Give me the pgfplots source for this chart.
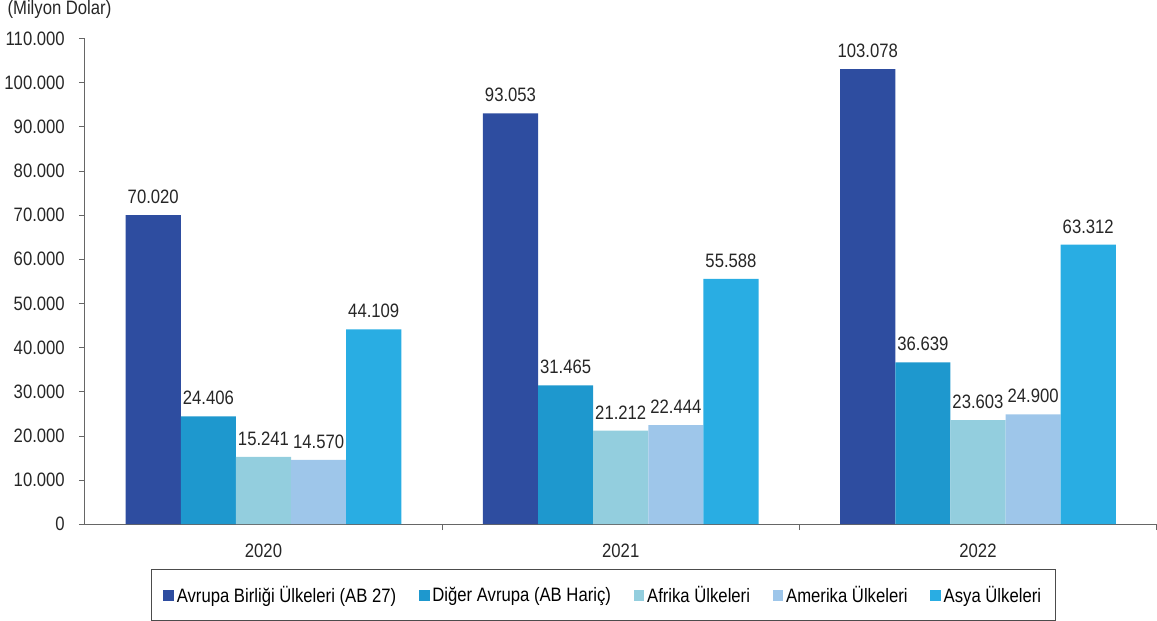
\documentclass[border=0pt]{standalone}
\usepackage{fontspec}
\setmainfont{Liberation Sans}[FakeStretch=0.86]
\usepackage{pgfplots}
\pgfplotsset{compat=1.18}
\definecolor{cA}{HTML}{2E4DA0}
\definecolor{cB}{HTML}{1E98CE}
\definecolor{cC}{HTML}{93CEDE}
\definecolor{cD}{HTML}{9EC6EA}
\definecolor{cE}{HTML}{29ADE3}
\newcommand{\ff}{\fontsize{14.5}{16}\selectfont}
\begin{document}
\begin{tikzpicture}[x=0.75pt,y=0.75pt]
\begin{axis}[
  name=ax,
  scale only axis,
  width=801pt, height=363pt,
  ybar=0pt, bar width=41.2pt,
  xmin=-0.5, xmax=2.5,
  ymin=0, ymax=110000,
  xtick={0,1,2}, xticklabels={2020,2021,2022},
  minor xtick={0.5,1.5,2.5},
  major x tick style={draw=none},
  minor tick length=4.5pt,
  major tick length=4.5pt,
  tick align=outside,
  scaled y ticks=false,
  ytick={0,10000,20000,30000,40000,50000,60000,70000,80000,90000,100000,110000},
  yticklabels={0,10.000,20.000,30.000,40.000,50.000,60.000,70.000,80.000,90.000,100.000,110.000},
  axis x line*=bottom, axis y line*=left,
  axis line style={draw=gray!80!black, line width=0.6pt},
  tick style={draw=gray!80!black, line width=0.6pt},
  font=\ff,
  tick label style={font=\ff, text=black!85},
  yticklabel style={xshift=-7pt},
  xticklabel style={yshift=-7pt},
  point meta=explicit symbolic,
  nodes near coords,
  nodes near coords style={font=\ff, text=black!85, yshift=5pt},
  legend columns=5,
  legend style={at={(0.484,-0.093)}, anchor=north, draw=black!70, line width=0.5pt,
    font=\ff, inner xsep=9pt, inner ysep=10pt,
    /tikz/every even column/.append style={column sep=15pt}},
  legend image code/.code={\fill[#1,draw=none] (0pt,-4.5pt) rectangle (8pt,3.5pt);},
]
\addplot[fill=cA, draw=none] coordinates {(0,70020) [70.020] (1,93053) [93.053] (2,103078) [103.078]};
\addplot[fill=cB, draw=none] coordinates {(0,24406) [24.406] (1,31465) [31.465] (2,36639) [36.639]};
\addplot[fill=cC, draw=none] coordinates {(0,15241) [15.241] (1,21212) [21.212] (2,23603) [23.603]};
\addplot[fill=cD, draw=none] coordinates {(0,14570) [14.570] (1,22444) [22.444] (2,24900) [24.900]};
\addplot[fill=cE, draw=none] coordinates {(0,44109) [44.109] (1,55588) [55.588] (2,63312) [63.312]};
\legend{Avrupa Birliği Ülkeleri (AB 27),Diğer Avrupa (AB Hariç),Afrika Ülkeleri,Amerika Ülkeleri,Asya Ülkeleri}
\end{axis}
\node[anchor=north west, font=\ff, text=black!85, inner sep=0pt] at ([xshift=-58pt,yshift=29pt]ax.north west) {(Milyon Dolar)};
\end{tikzpicture}
\end{document}
